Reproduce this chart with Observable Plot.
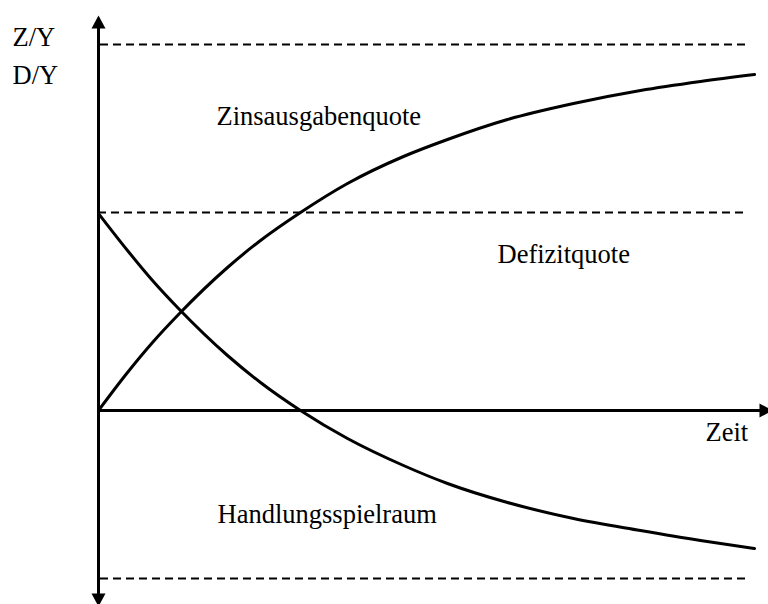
<!DOCTYPE html>
<html>
<head>
<meta charset="utf-8">
<script src="https://cdn.jsdelivr.net/npm/d3@7"></script>
<script src="https://cdn.jsdelivr.net/npm/@observablehq/plot@0.6"></script>
<style>
  html, body { margin: 0; padding: 0; background: #fff; }
  #chart { width: 768px; height: 604px; }
</style>
</head>
<body>
<div id="chart"></div>
<script>
// --- Data (time in abstract units, quotas in abstract units; x-axis at 0) ---
const time = [0, 29, 54, 80, 129, 162, 202, 249, 305, 349, 409, 475, 542, 602, 656];
const zinsausgabenquote = [0, 38, 68, 96, 143, 170, 198, 227, 254, 271, 291, 307, 320, 329, 336];
const handlungsspielraum = [197, 160, 130, 102, 55, 28, 0, -28, -55, -73, -92, -108, -120, -130, -138];

// horizontal reference levels (upper limit, deficit quota, lower limit)
const levelValues = [366, 198, -168];
const levelStart = [2, 0, 2];
const levelEnd = [649, 649, 649];

// axis extents (data units)
const yAxisRange = [-184, 382];
const yArrowTips = [395, -196];
const xAxisRange = [0, 662];
const xArrowTip = 674;

// labels
const labelTexts = ["Z/Y", "D/Y", "Zinsausgabenquote", "Defizitquote", "Zeit", "Handlungsspielraum"];
const labelTime = [-86, -86, 118, 399, 607, 119];
const labelValue = [365, 327, 286, 148, -30, -112];

// --- Build tables ---
const curveRows = [];
time.forEach((t, i) => {
  curveRows.push({t, v: zinsausgabenquote[i], series: "Zinsausgabenquote"});
  curveRows.push({t, v: handlungsspielraum[i], series: "Handlungsspielraum"});
});
const levelRows = levelValues.map((v, i) => ({v, x1: levelStart[i], x2: levelEnd[i]}));
const labelRows = labelTexts.map((text, i) => ({text, t: labelTime[i], v: labelValue[i]}));

// filled arrowheads, tip at the anchor point
const k = 1.86;
const headUp = {draw(ctx, size) { const r = Math.sqrt(size / Math.PI); ctx.moveTo(0, 0); ctx.lineTo(-r, k * r); ctx.lineTo(r, k * r); ctx.closePath(); }};
const headDown = {draw(ctx, size) { const r = Math.sqrt(size / Math.PI); ctx.moveTo(0, 0); ctx.lineTo(-r, -k * r); ctx.lineTo(r, -k * r); ctx.closePath(); }};
const headRight = {draw(ctx, size) { const r = Math.sqrt(size / Math.PI); ctx.moveTo(0, 0); ctx.lineTo(-k * r, -r); ctx.lineTo(-k * r, r); ctx.closePath(); }};

const font = "'Liberation Serif', 'Times New Roman', serif";

const chart = Plot.plot({
  width: 768,
  height: 604,
  marginLeft: 98,
  marginRight: 0,
  marginTop: 0,
  marginBottom: 0,
  x: {domain: [0, 670], axis: null},
  y: {domain: [-194, 410], axis: null},
  style: {background: "white", overflow: "visible"},
  marks: [
    Plot.ruleY(levelRows, {y: "v", x1: "x1", x2: "x2", stroke: "black", strokeWidth: 2.2, strokeDasharray: "8,5"}),
    Plot.ruleX([0], {y1: yAxisRange[0], y2: yAxisRange[1], stroke: "black", strokeWidth: 3}),
    Plot.ruleY([0], {x1: xAxisRange[0], x2: xAxisRange[1], stroke: "black", strokeWidth: 3}),
    Plot.dot([{t: 0, v: yArrowTips[0]}], {x: "t", y: "v", r: 7, symbol: headUp, fill: "black", stroke: "none"}),
    Plot.dot([{t: 0, v: yArrowTips[1]}], {x: "t", y: "v", r: 7, symbol: headDown, fill: "black", stroke: "none"}),
    Plot.dot([{t: xArrowTip, v: 0}], {x: "t", y: "v", r: 7, symbol: headRight, fill: "black", stroke: "none"}),
    Plot.line(curveRows, {x: "t", y: "v", z: "series", stroke: "black", strokeWidth: 3, curve: "monotone-x"}),
    Plot.text(labelRows, {x: "t", y: "v", text: "text", textAnchor: "start", lineAnchor: "bottom", fontSize: 26.5, fontFamily: font, fill: "black"})
  ]
});
document.getElementById("chart").append(chart);
</script>
</body>
</html>
